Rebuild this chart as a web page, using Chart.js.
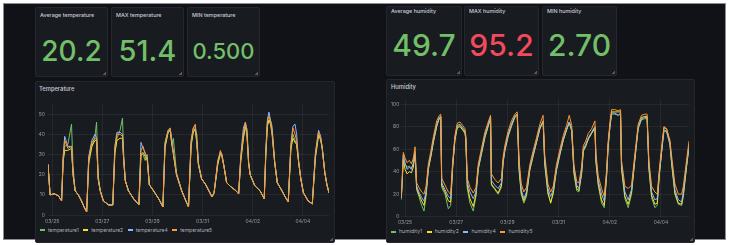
<!DOCTYPE html>
<html>
<head>
<meta charset="utf-8">
<script src="https://cdn.jsdelivr.net/npm/chart.js@4.4.1/dist/chart.umd.min.js"></script>
<style>
  html, body { margin:0; padding:0; background:#ffffff; }
  body { width:730px; height:245px; position:relative; overflow:hidden; font-family:Inter, "Noto Sans", sans-serif; }
  #frame { position:absolute; left:3px; top:3px; width:721px; height:235px; background:#111217; border:1px solid #8d8d8d; }
  .panel { position:absolute; background:#181b1f; border:1px solid #25272d; border-radius:2px; box-sizing:border-box; }
  .panel::after { content:""; position:absolute; right:1px; bottom:1px; width:4px; height:4px;
    background:linear-gradient(135deg, transparent 55%, rgba(204,204,220,0.35) 55%); }
  .ptitle { position:absolute; color:#ccccdc; font-weight:500; white-space:nowrap; line-height:1; }
  .value { position:absolute; left:0; right:0; text-align:center; font-weight:500; white-space:nowrap; }
  canvas { position:absolute; }
  .legend { position:absolute; display:flex; align-items:center; color:rgba(204,204,220,0.85); white-space:nowrap; line-height:1; }
  .legend .item { display:flex; align-items:center; }
  .legend .dash { display:inline-block; width:5px; height:1.5px; margin-right:3px; }
</style>
</head>
<body>
<div id="frame"></div>

<!-- temperature stats -->
<div class="panel" style="left:35px;top:7px;width:73px;height:70px;">
  <div class="ptitle" style="left:4px;top:5px;font-size:5.4px;">Average temperature</div>
  <div class="value" id="v_avg_t" style="top:29px;font-size:28px;line-height:28px;color:#73bf69;"></div>
</div>
<div class="panel" style="left:111px;top:7px;width:73px;height:70px;">
  <div class="ptitle" style="left:4px;top:5px;font-size:5.4px;">MAX temperature</div>
  <div class="value" id="v_max_t" style="top:28px;font-size:29px;line-height:29px;color:#73bf69;"></div>
</div>
<div class="panel" style="left:187px;top:7px;width:73px;height:70px;">
  <div class="ptitle" style="left:4px;top:5px;font-size:5.4px;">MIN temperature</div>
  <div class="value" id="v_min_t" style="top:32px;font-size:22px;line-height:22px;color:#73bf69;"></div>
</div>

<!-- humidity stats -->
<div class="panel" style="left:386px;top:6px;width:76px;height:70px;">
  <div class="ptitle" style="left:4px;top:2px;font-size:5.4px;">Average humidity</div>
  <div class="value" id="v_avg_h" style="top:23px;font-size:30px;line-height:30px;color:#73bf69;"></div>
</div>
<div class="panel" style="left:464px;top:6px;width:75px;height:70px;">
  <div class="ptitle" style="left:4px;top:2px;font-size:5.4px;">MAX humidity</div>
  <div class="value" id="v_max_h" style="top:23px;font-size:30px;line-height:30px;color:#f2495c;"></div>
</div>
<div class="panel" style="left:542px;top:6px;width:75px;height:70px;">
  <div class="ptitle" style="left:4px;top:2px;font-size:5.4px;">MIN humidity</div>
  <div class="value" id="v_min_h" style="top:23px;font-size:30px;line-height:30px;color:#73bf69;"></div>
</div>

<!-- time series panels -->
<div class="panel" style="left:35px;top:81px;width:300px;height:162px;">
  <div class="ptitle" style="left:3px;top:4px;font-size:5.8px;">Temperature</div>
</div>
<div class="panel" style="left:386px;top:79px;width:309px;height:164px;">
  <div class="ptitle" style="left:4px;top:4px;font-size:5.8px;">Humidity</div>
</div>
<canvas id="tempChart" width="300" height="145" style="left:35px;top:81px;width:300px;height:145px;"></canvas>
<canvas id="humChart" width="309" height="148" style="left:386px;top:79px;width:309px;height:148px;"></canvas>
<div class="legend" id="tempLegend" style="left:40px;top:227.5px;height:5px;font-size:5px;"></div>
<div class="legend" id="humLegend" style="left:391px;top:229.5px;height:5px;font-size:5.2px;"></div>

<script>
// ---------- stat values ----------
const statTemperature = { avg: "20.2", max: "51.4", min: "0.500" };
const statHumidity = { avg: "49.7", max: "95.2", min: "2.70" };

// ---------- x axis (hours since 03/25 00:00) ----------
const xTickHours = [0, 48, 96, 144, 192, 240];
const xTickLabels = ["03/25", "03/27", "03/29", "03/31", "04/02", "04/04"];

// ---------- temperature ----------
const tempTickValues = [0, 10, 20, 30, 40, 50];
const tempSeriesNames = ["temperature1", "temperature2", "temperature4", "temperature5"];
const tempHours = [
  -4,-2,2,6,9,10.5,12,15,18.5,20,
  22,25,28,31,33,35,38,41,42.5,44,
  46,49,54,58,60,62,65,67.3,68.5,70,
  73,78,83,85,87,89,91,93,97,102,
  106,108,111,113,114.5,116,119,124,128,130.5,
  133,135,137,138.5,140,143,147,151,153,155,
  158.5,161,162.5,164.5,167,171,176,178.5,180.5,183,
  185,186.5,188,189.5,194,199,203,204.5,206,207.5,
  209,210.5,213,215.5,220,223,226,228.5,230.5,232.5,
  234,236,238,240.5,245,249,252,255,257,258.5,
  261,263,265
];
const temperature1 = [
  25,10,10.5,9.5,7,26,34,35,45,24,
  12,10,7,3.5,1.5,25,34,39,46,20,
  12,7,5,5,30,38,42,48,30,17,
  12,8,5,30,30,27,30,15,12,8,
  4,33,41,42,35,38,21,12,7,4,
  34,41,42,40,26,18,15,11,9,11,
  25,30,29,24,16,14,12,10.5,26,38,
  43,43,27,20,14.5,12,8,29,44,47,
  47,44,27,16,12,9,6.5,32,40,37,
  35,26,18,11,7,5.5,28,39,38,34,
  21,15,11
];
const temperature2 = [
  25,10,10.5,9.5,7,27,32,32,33,20,
  12,10,7,3.5,1.5,27,34,37,37,18,
  12,7,5,5,31,37,38,38,27,17,
  12,8,5,30,31,29,27,15,12,8,
  4,34,41,42,35,30,20,12,7,4,
  35,41,43,35,25,18,15,11,9,11,
  25,31,29,24,16,14,12,10.5,27,38,
  45,39,26,20,14.5,12,8,30,44,47,
  45,40,26,16,12,9,6.5,33,38,36,
  35,26,18,11,7,5.5,29,40,37,33,
  21,15,11
];
const temperature4 = [
  25,10,10.5,9.5,7,29,39,34,34,20,
  12,10,7,3.5,1.5,29,37,40,38,18,
  12,7,5,5,34,41,41,40,27,17,
  12,8,5,36,33,31,28,15,12,8,
  4,36,42,43,37,31,20,12,7,4,
  37,43,44,36,25,18,15,11,9,11,
  27,31,30,24,16,14,12,10.5,29,43,
  46,41,26,20,14.5,12,8,32,47,51,
  47,42,26,16,12,9,6.5,35,44,45,
  40,26,18,11,7,5.5,31,42,39,33,
  21,15,11
];
const temperature5 = [
  25,10,10.5,9.5,7,28,37,33,34,20,
  12,10,7,3.5,1.5,28,36,38,38,18,
  12,7,5,5,33,40,40,39,27,17,
  12,8,5,32,34,30,28,15,12,8,
  4,35,42,43,36,31,20,12,7,4,
  36,43,45,36,25,18,15,11,9,11,
  26,32,30,24,16,14,12,10.5,28,40,
  46,40,26,20,14.5,12,8,31,46,49,
  46,41,26,16,12,9,6.5,34,43,40,
  37,26,18,11,7,5.5,30,41,38,33,
  21,15,11
];

// ---------- humidity ----------
const humTickValues = [0, 20, 40, 60, 80, 100];
const humSeriesNames = ["humidity1", "humidity2", "humidity4", "humidity5"];
const humHours = [
  -3.5,-1.6,0,2,4,6,7.8,9.4,10.9,13,
  15.6,17.8,19.7,21.9,24,26.6,29.7,32.2,33.5,34.4,
  37.5,40.6,42.8,44.7,46.8,49,51.5,54,56.2,57,
  58.4,60.9,64,66.5,68.7,71.8,74.9,78,80.2,81,
  84.2,87.3,90.4,92,93.6,96.7,99.8,103,105.2,107,
  109,111.4,113.9,117,120,123.3,126.4,129.5,131,134,
  136.6,139,142,145.3,148.4,151.5,154,156.3,158.4,161,
  163,165.6,167.2,169.4,171.9,175,178.1,179,181.2,184.3,
  186.8,189,190.5,192.1,193.7,196.8,199.9,202.1,203,206.2,
  209.3,212.4,215.5,218.6,221.8,224.9,227,228.7,231.2,234.3,
  236.5,238.4,240.6,242.8,245.3,248.4,250,253.1,256.3,259.4,
  261,264,266.3
];
const humidity1 = [
  15,52,46,44,45,43,47,55,24,18,
  10,5,18,42,53,67,81,87,88,26,
  20,7,10,44,69,80,81,78,75,68,
  25,12,5,18,42,56,70,80,87,28,
  24,20,26,48,58,71,80,88,90,40,
  20,12,18,41,53,66,78,84,46,20,
  13,20,41,55,68,77,83,76,38,23,
  22,38,58,62,69,74,79,48,28,12,
  8,35,62,79,91,91,90,91,42,16,
  8,20,50,78,86,87,87,42,17,8,
  10,36,57,76,75,64,47,20,11,10,
  18,44,62
];
const humidity2 = [
  17,50,42,38,40,39,44,56,25,20,
  14,10,20,43,52,66,80,88,89,28,
  22,14,13,45,68,79,80,77,74,69,
  27,16,9,20,43,57,71,81,88,29,
  25,21,28,49,59,72,81,89,91,42,
  21,14,20,42,54,66,78,85,48,22,
  12,22,42,56,68,77,84,77,40,25,
  23,39,59,63,69,74,79,50,29,15,
  10,36,63,80,93,93,93,93,44,18,
  11,22,51,79,88,89,89,44,19,11,
  12,37,58,79,78,66,48,21,12,11,
  20,45,63
];
const humidity4 = [
  16,55,48,42,44,42,48,58,27,22,
  17,14,22,44,54,68,82,88,89,30,
  24,18,16,46,70,81,82,79,76,70,
  30,22,16,22,44,58,72,82,88,32,
  28,25,30,50,60,73,82,89,91,45,
  24,16,22,43,55,67,79,85,50,25,
  18,24,43,57,69,78,84,78,42,28,
  25,40,60,64,70,75,80,52,32,20,
  14,38,64,80,92,92,90,92,46,22,
  15,24,52,79,87,88,88,46,22,15,
  16,38,58,77,76,65,50,24,15,13,
  22,46,63
];
const humidity5 = [
  18,57,52,48,50,47,52,62,30,26,
  22,20,27,47,57,71,85,90,91,34,
  28,22,20,49,72,83,84,81,78,72,
  34,26,21,26,47,61,75,84,90,38,
  33,30,34,53,63,76,85,91,93,50,
  29,22,26,46,58,70,82,90,55,29,
  22,27,46,60,72,81,90,81,46,31,
  30,44,63,67,74,78,85,56,36,25,
  18,41,67,83,95,95,94,95,50,27,
  25,28,55,82,90,91,91,50,27,22,
  20,41,62,80,78,68,54,29,20,20,
  27,50,67
];

const seriesColors = ["#73bf69", "#fade2a", "#8ab8ff", "#ff9830"];

// ---------- stats ----------
document.getElementById("v_avg_t").textContent = statTemperature.avg;
document.getElementById("v_max_t").textContent = statTemperature.max;
document.getElementById("v_min_t").textContent = statTemperature.min;
document.getElementById("v_avg_h").textContent = statHumidity.avg;
document.getElementById("v_max_h").textContent = statHumidity.max;
document.getElementById("v_min_h").textContent = statHumidity.min;

const gridColor = "rgba(204,204,220,0.08)";
const tickColor = "rgba(204,204,220,0.7)";

function buildChart(id, hours, seriesArrays, names, yTicks, cfg) {
  const datasets = seriesArrays.map((vals, k) => ({
    label: names[k],
    data: hours.map((h, i) => ({ x: h, y: vals[i] })),
    borderColor: seriesColors[k],
    backgroundColor: seriesColors[k],
    borderWidth: 1,
    pointRadius: 0,
    tension: 0,
    order: seriesArrays.length - k
  }));
  return new Chart(document.getElementById(id), {
    type: "line",
    data: { datasets },
    options: {
      responsive: false,
      animation: false,
      devicePixelRatio: 1,
      layout: { padding: { top: cfg.padTop, right: cfg.padRight, bottom: 0, left: 0 } },
      plugins: { legend: { display: false }, tooltip: { enabled: false } },
      scales: {
        x: {
          type: "linear",
          min: cfg.xMin, max: cfg.xMax,
          afterBuildTicks: s => { s.ticks = xTickHours.map(v => ({ value: v })); },
          afterFit: s => { s.height = cfg.xAxisHeight; },
          ticks: {
            autoSkip: false, maxRotation: 0, padding: 3, color: tickColor,
            font: { family: "Inter", size: 5 },
            callback: (v, i) => xTickLabels[i]
          },
          grid: { color: gridColor, drawTicks: false },
          border: { display: false }
        },
        y: {
          min: 0, max: cfg.yMax,
          afterBuildTicks: s => { s.ticks = yTicks.map(v => ({ value: v })); },
          afterFit: s => { s.width = cfg.yAxisWidth; },
          ticks: {
            padding: cfg.yPad, color: tickColor,
            font: { family: "Inter", size: 5 },
            callback: v => String(v)
          },
          grid: { color: gridColor, drawTicks: false },
          border: { display: false }
        }
      }
    }
  });
}

function buildLegend(id, names) {
  const el = document.getElementById(id);
  names.forEach((n, k) => {
    const item = document.createElement("span");
    item.className = "item";
    item.style.marginRight = "4.5px";
    const d = document.createElement("span");
    d.className = "dash";
    d.style.background = seriesColors[k];
    const t = document.createElement("span");
    t.textContent = n;
    item.appendChild(d); item.appendChild(t);
    el.appendChild(item);
  });
}

buildChart("tempChart", tempHours, [temperature1, temperature2, temperature4, temperature5], tempSeriesNames, tempTickValues,
  { xMin: -4, xMax: 265, yMax: 55, padTop: 23, padRight: 6, xAxisHeight: 11, yAxisWidth: 13, yPad: 3 });
buildChart("humChart", humHours, [humidity1, humidity2, humidity4, humidity5], humSeriesNames, humTickValues,
  { xMin: -3.5, xMax: 266.3, yMax: 104, padTop: 20.5, padRight: 6, xAxisHeight: 10.3, yAxisWidth: 15.3, yPad: 2 });

buildLegend("tempLegend", tempSeriesNames);
buildLegend("humLegend", humSeriesNames);
</script>
</body>
</html>
